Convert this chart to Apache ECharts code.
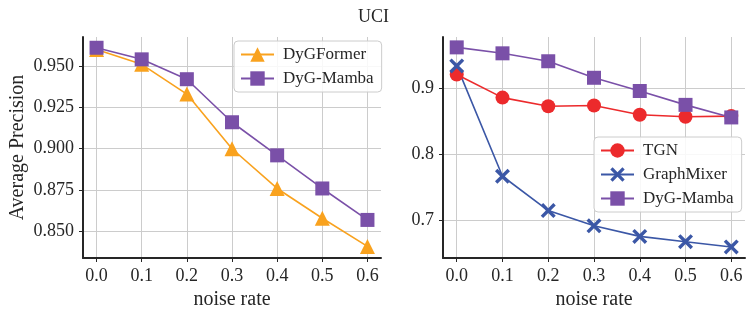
<!DOCTYPE html>
<html>
<head>
<meta charset="utf-8">
<script src="https://cdn.jsdelivr.net/npm/echarts@6/dist/echarts.min.js"></script>
<style>
html,body{margin:0;padding:0;background:#fff;}
#chart{width:747px;height:309px;}
</style>
</head>
<body>
<div id="chart"></div>
<script>
// ---- data ----
const noiseRates = [0.0, 0.1, 0.2, 0.3, 0.4, 0.5, 0.6];
const leftDyGFormer = [0.960, 0.951, 0.933, 0.900, 0.876, 0.858, 0.841];
const leftDyGMamba  = [0.961, 0.954, 0.942, 0.916, 0.896, 0.876, 0.857];
const rightTGN        = [0.921, 0.886, 0.873, 0.874, 0.860, 0.857, 0.858];
const rightGraphMixer = [0.934, 0.767, 0.715, 0.692, 0.676, 0.668, 0.660];
const rightDyGMamba   = [0.962, 0.953, 0.941, 0.916, 0.896, 0.875, 0.856];
const xTicks = [0.0, 0.1, 0.2, 0.3, 0.4, 0.5, 0.6];
const leftYTicks = [0.850, 0.875, 0.900, 0.925, 0.950];
const rightYTicks = [0.7, 0.8, 0.9];
const titleText = 'UCI';

const FONT = '"Liberation Serif", "Times New Roman", serif';
const TXT = '#262626';
const C_ORANGE = '#F9A21E';
const C_PURPLE = '#7A50A8';
const C_RED = '#EC2A2C';
const C_BLUE = '#3B57A6';
const X_PATH = 'path://M0,1.6 L1.6,0 L5,3.4 L8.4,0 L10,1.6 L6.6,5 L10,8.4 L8.4,10 L5,6.6 L1.6,10 L0,8.4 L3.4,5 Z';

function pairs(ys){ return noiseRates.map((x,i)=>[x, ys[i]]); }

function labelStyle(){ return {fontFamily:FONT, fontSize:18, color:TXT, fontWeight:'normal', fontStyle:'normal'}; }

function xAxisDef(gridIndex){
  return {
    type:'value', gridIndex, min:-0.03, max:0.63,
    name:'noise rate', nameLocation:'middle', nameGap:26,
    nameTextStyle:{fontFamily:FONT, fontSize:20, color:TXT},
    axisLine:{show:true, onZero:false, lineStyle:{color:'#262626', width:2}},
    axisTick:{show:true, length:4, inside:false, customValues:xTicks, lineStyle:{color:'#262626', width:1}},
    axisLabel:Object.assign({customValues:xTicks, margin:9, formatter:v=>v.toFixed(1)}, labelStyle()),
    splitLine:{show:true, lineStyle:{color:'#cccccc', width:1}}
  };
}
function yAxisDef(gridIndex, min, max, ticks, dec, name){
  const a = {
    type:'value', gridIndex, min, max,
    axisLine:{show:true, onZero:false, lineStyle:{color:'#262626', width:2}},
    axisTick:{show:true, length:4, customValues:ticks, lineStyle:{color:'#262626', width:1}},
    axisLabel:Object.assign({customValues:ticks, margin:9, formatter:v=>v.toFixed(dec)}, labelStyle()),
    splitLine:{show:true, lineStyle:{color:'#cccccc', width:1}}
  };
  if(name){
    a.name = name; a.nameLocation='middle'; a.nameGap=55;
    a.nameTextStyle = {fontFamily:FONT, fontSize:20, color:TXT};
  }
  return a;
}
function lineSeries(name, ys, color, symbol, size, xi, yi){
  return {
    type:'line', name, data:pairs(ys), xAxisIndex:xi, yAxisIndex:yi,
    symbol, symbolSize:size, showAllSymbol:true, clip:false,
    lineStyle:{color, width:1.6}, itemStyle:{color}, emphasis:{disabled:true}
  };
}

const chart = echarts.init(document.getElementById('chart'), null, {renderer:'canvas'});
chart.setOption({
  animation:false,
  backgroundColor:'#fff',
  textStyle:{fontFamily:FONT, color:TXT},
  title:{text:titleText, left:'center', top:3, textStyle:{fontFamily:FONT, fontSize:18, fontWeight:'normal', color:TXT}},
  grid:[
    {left:83, top:37, width:298, bottom:51, containLabel:false, outerBoundsMode:'none'},
    {left:443, top:37, width:302, bottom:51, containLabel:false, outerBoundsMode:'none'}
  ],
  xAxis:[xAxisDef(0), xAxisDef(1)],
  yAxis:[
    yAxisDef(0, 0.834, 0.9675, leftYTicks, 3, 'Average Precision'),
    yAxisDef(1, 0.6433, 0.9777, rightYTicks, 1, null)
  ],
  legend:[
    {
      data:[{name:'DyGFormer'},{name:'DyG-Mamba'}],
      orient:'vertical', left:234, top:41, itemWidth:33, itemHeight:18, itemGap:7,
      padding:[5,8,5,6], borderColor:'#cccccc', borderWidth:1, borderRadius:4,
      backgroundColor:'rgba(255,255,255,0.85)',
      textStyle:{fontFamily:FONT, fontSize:17, color:TXT, padding:[0,0,0,4]},
      selectedMode:false
    },
    {
      data:[{name:'TGN'},{name:'GraphMixer'},{name:'DyG-Mamba '}],
      orient:'vertical', left:594, top:137, itemWidth:33, itemHeight:18, itemGap:7,
      padding:[5,8,5,6], borderColor:'#cccccc', borderWidth:1, borderRadius:4,
      backgroundColor:'rgba(255,255,255,0.85)',
      textStyle:{fontFamily:FONT, fontSize:17, color:TXT, padding:[0,0,0,4]},
      formatter:n=>n.trim(),
      selectedMode:false
    }
  ],
  series:[
    lineSeries('DyGFormer', leftDyGFormer, C_ORANGE, 'triangle', 15, 0, 0),
    lineSeries('DyG-Mamba', leftDyGMamba, C_PURPLE, 'rect', 14, 0, 0),
    lineSeries('TGN', rightTGN, C_RED, 'circle', 14, 1, 1),
    lineSeries('GraphMixer', rightGraphMixer, C_BLUE, X_PATH, 15, 1, 1),
    lineSeries('DyG-Mamba ', rightDyGMamba, C_PURPLE, 'rect', 14, 1, 1)
  ]
});
</script>
</body>
</html>
